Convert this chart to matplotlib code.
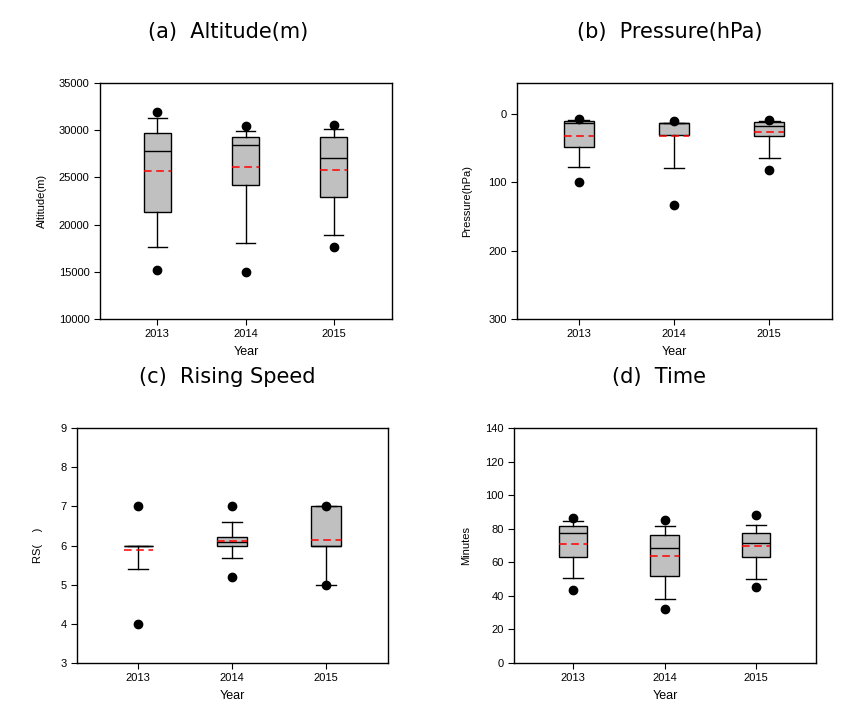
from matplotlib import pyplot as plt
import numpy as np

years = ["2013", "2014", "2015"]

# (a) Altitude (m)
alt_low = [17630, 18050, 18900]
alt_q1 = [21330, 24200, 22920]
alt_med = [27800, 28430, 27050]
alt_q3 = [29700, 29240, 29240]
alt_high = [31260, 29900, 30090]
alt_mean = [25680, 26100, 25820]
alt_out = [[15230, 31900], [14940, 30410], [17670, 30590]]

# (b) Pressure (hPa)
pr_low = [9.3, 13.0, 10.7]
pr_q1 = [10.7, 13.2, 11.7]
pr_med = [14.0, 13.6, 17.6]
pr_q3 = [48.3, 30.7, 32.2]
pr_high = [77.6, 79.5, 64.4]
pr_mean = [32.0, 32.0, 27.3]
pr_out = [[7.3, 99.0], [10.7, 133.0], [9.0, 82.0]]

# (c) Rising speed
rs_low = [5.40, 5.68, 5.0]
rs_q1 = [6.0, 6.0, 6.0]
rs_med = [6.0, 6.09, 6.0]
rs_q3 = [6.0, 6.22, 7.0]
rs_high = [6.0, 6.59, 7.0]
rs_mean = [5.89, 6.11, 6.14]
rs_out = [[4.0, 7.0], [5.2, 7.02], [5.0, 7.0]]

# (d) Time (minutes)
tm_low = [50.5, 38.1, 50.0]
tm_q1 = [63.2, 52.0, 63.2]
tm_med = [77.5, 68.5, 71.3]
tm_q3 = [81.6, 76.2, 77.3]
tm_high = [84.4, 81.4, 82.0]
tm_mean = [70.9, 63.7, 69.7]
tm_out = [[43.5, 86.2], [32.2, 85.0], [45.0, 88.0]]

W, H = 858, 718
plt.rcParams['font.family'] = ['Liberation Sans', 'DejaVu Sans']
fig = plt.figure(figsize=(W / 100, H / 100), dpi=100)


def make_ax(l, t, r, b):
    return fig.add_axes([l / W, 1 - b / H, (r - l) / W, (b - t) / H])


def stats(low, q1, med, q3, high, mean, out):
    res = []
    for i in range(len(low)):
        res.append(dict(whislo=low[i], q1=q1[i], med=med[i], q3=q3[i],
                        whishi=high[i], mean=mean[i], fliers=out[i]))
    return res


def draw(ax, st, ylim, yticks, ylabel, ylab_x):
    ax.bxp(st, positions=[1, 2, 3], widths=0.31, patch_artist=True,
           showmeans=True, meanline=True, showfliers=True,
           boxprops=dict(facecolor="#c0c0c0", edgecolor="black", linewidth=1.0),
           medianprops=dict(color="black", linewidth=1.0),
           whiskerprops=dict(color="black", linewidth=1.0),
           capprops=dict(color="black", linewidth=1.0),
           capwidths=0.22,
           meanprops=dict(color="red", linewidth=1.1, linestyle=(0, (5, 3))),
           flierprops=dict(marker="o", markerfacecolor="black",
                           markeredgecolor="black", markersize=6))
    ax.set_xlim(0.35, 3.66)
    ax.set_ylim(*ylim)
    ax.set_yticks(yticks)
    ax.set_xticks([1, 2, 3])
    ax.set_xticklabels(years)
    ax.tick_params(labelsize=8, length=4, width=0.8, direction="out")
    ax.set_xlabel("Year", fontsize=9, labelpad=5)
    ax.set_ylabel(ylabel, fontsize=8)
    ax.yaxis.set_label_coords(ylab_x, 0.5)
    for s in ax.spines.values():
        s.set_linewidth(1.0)


ax1 = make_ax(100, 83, 392, 319)
draw(ax1, stats(alt_low, alt_q1, alt_med, alt_q3, alt_high, alt_mean, alt_out),
     (10000, 35000), np.arange(10000, 35001, 5000), "Altitude(m)", -0.180)

ax2 = make_ax(517, 83, 832, 319)
draw(ax2, stats(pr_low, pr_q1, pr_med, pr_q3, pr_high, pr_mean, pr_out),
     (300, -45), [0, 100, 200, 300], "Pressure(hPa)", -0.141)

ax3 = make_ax(77, 428, 388, 663)
draw(ax3, stats(rs_low, rs_q1, rs_med, rs_q3, rs_high, rs_mean, rs_out),
     (3, 9), np.arange(3, 10), "RS(    )", -0.108)

ax4 = make_ax(514, 428, 816, 663)
draw(ax4, stats(tm_low, tm_q1, tm_med, tm_q3, tm_high, tm_mean, tm_out),
     (0, 140), np.arange(0, 141, 20), "Minutes", -0.141)

titles = ["(a)  Altitude(m)", "(b)  Pressure(hPa)", "(c)  Rising Speed", "(d)  Time"]
tpos = [(228, 32), (670, 32), (227, 377), (659, 377)]
for t, (x, y) in zip(titles, tpos):
    fig.text(x / W, 1 - y / H, t, ha="center", va="center", fontsize=15,
             family="DejaVu Sans")

fig.savefig("out.png", dpi=100)
